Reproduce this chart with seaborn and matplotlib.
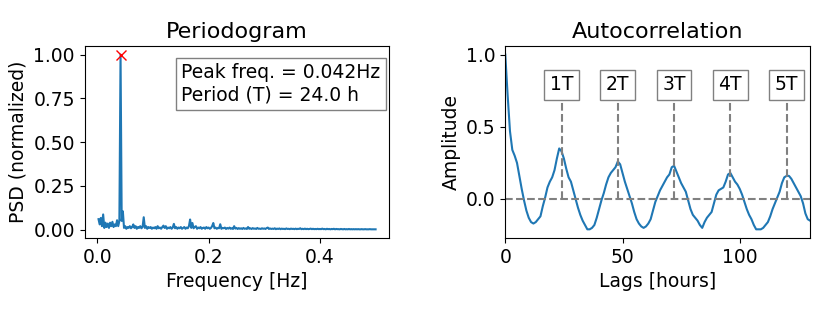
import numpy as np
import matplotlib
matplotlib.use('Agg')
import matplotlib.pyplot as plt
import seaborn as sns

# periodogram, hourly data -> frequency grid of 1/480 Hz
psd = [0.06, 0.03, 0.067, 0.02, 0.087, 0.01, 0.04, 0.015, 0.035, 0.01,
       0.04, 0.02, 0.045, 0.015, 0.03, 0.02, 0.054, 0.02, 0.05, 1.00,
       0.05, 0.105, 0.01, 0.02, 0.005, 0.015, 0.01, 0.02, 0.008, 0.015,
       0.03, 0.01, 0.02, 0.005, 0.015, 0.01, 0.02, 0.008, 0.015, 0.071,
       0.01, 0.02, 0.005, 0.015, 0.01, 0.015, 0.005, 0.012, 0.008, 0.015,
       0.005, 0.02, 0.008, 0.012, 0.005, 0.015, 0.023, 0.01, 0.02, 0.005,
       0.012, 0.008, 0.015, 0.005, 0.012, 0.033, 0.008, 0.015, 0.005, 0.012,
       0.008, 0.015, 0.005, 0.01, 0.015, 0.005, 0.012, 0.008, 0.02, 0.058,
       0.01, 0.038, 0.008, 0.015, 0.02, 0.005, 0.012, 0.008, 0.015, 0.005,
       0.01, 0.012, 0.005, 0.015, 0.008, 0.012, 0.005, 0.01, 0.02, 0.038,
       0.008, 0.012, 0.005, 0.01, 0.008, 0.031, 0.005, 0.01, 0.008, 0.012,
       0.004, 0.01, 0.006, 0.012, 0.005, 0.008, 0.004, 0.02, 0.006, 0.01,
       0.004, 0.009, 0.005, 0.008, 0.004, 0.01, 0.005, 0.007, 0.004, 0.015,
       0.005, 0.008, 0.004, 0.009, 0.005, 0.007, 0.004, 0.01, 0.005, 0.006,
       0.004, 0.008, 0.005, 0.007, 0.004, 0.009, 0.012, 0.004, 0.007, 0.004,
       0.006, 0.004, 0.008, 0.003, 0.006, 0.004, 0.007, 0.003, 0.006, 0.004,
       0.005, 0.003, 0.007, 0.004, 0.005, 0.003, 0.006, 0.004, 0.005, 0.003,
       0.006, 0.003, 0.005, 0.004, 0.008, 0.003, 0.005, 0.003, 0.006, 0.003,
       0.005, 0.003, 0.004, 0.006, 0.003, 0.005, 0.003, 0.004, 0.003, 0.005,
       0.003, 0.004, 0.003, 0.006, 0.003, 0.004, 0.002, 0.005, 0.003, 0.004,
       0.002, 0.004, 0.003, 0.005, 0.002, 0.004, 0.003, 0.003, 0.002, 0.004,
       0.003, 0.002, 0.004, 0.002, 0.003, 0.002, 0.004, 0.002, 0.003, 0.002,
       0.003, 0.002, 0.003, 0.002, 0.003, 0.002, 0.002, 0.003, 0.002, 0.002,
       0.003, 0.002, 0.002, 0.002, 0.003, 0.002, 0.002, 0.002, 0.002, 0.002]
freq = np.arange(1, len(psd) + 1) / 480

# autocorrelation, lags 0..130 hours
acf = [1.00, 0.72, 0.47, 0.34, 0.30, 0.25, 0.16, 0.07, -0.01, -0.08,
       -0.13, -0.16, -0.17, -0.16, -0.14, -0.12, -0.05, 0.01, 0.08, 0.12,
       0.15, 0.20, 0.28, 0.35, 0.33, 0.28, 0.21, 0.15, 0.12, 0.06,
       0.00, -0.06, -0.11, -0.15, -0.18, -0.21, -0.21, -0.20, -0.18, -0.13,
       -0.07, -0.01, 0.04, 0.10, 0.15, 0.18, 0.20, 0.22, 0.26, 0.24,
       0.18, 0.12, 0.07, 0.02, -0.03, -0.09, -0.14, -0.17, -0.19, -0.20,
       -0.19, -0.17, -0.14, -0.08, -0.02, 0.02, 0.06, 0.09, 0.12, 0.15,
       0.17, 0.22, 0.23, 0.19, 0.15, 0.11, 0.08, 0.05, -0.01, -0.07,
       -0.11, -0.13, -0.15, -0.18, -0.20, -0.16, -0.13, -0.11, -0.09, -0.03,
       0.03, 0.06, 0.07, 0.08, 0.12, 0.17, 0.18, 0.15, 0.12, 0.10,
       0.07, 0.03, -0.02, -0.07, -0.11, -0.14, -0.18, -0.21, -0.21, -0.21,
       -0.20, -0.18, -0.16, -0.12, -0.07, -0.03, 0.01, 0.05, 0.11, 0.15,
       0.16, 0.16, 0.14, 0.11, 0.08, 0.05, 0.02, -0.03, -0.10, -0.14, -0.15]
lags = np.arange(len(acf))

peak_freq = 0.042
period = 24.0
period_labels = ['1T', '2T', '3T', '4T', '5T']
period_lags = [24, 48, 72, 96, 120]

fs = 13.5
fig, (ax1, ax2) = plt.subplots(1, 2, figsize=(8.3, 3.12), dpi=100)
fig.subplots_adjust(left=0.102, right=0.976, top=0.853, bottom=0.237, wspace=0.38)

# periodogram
sns.lineplot(x=freq, y=psd, ax=ax1, color='#1f77b4', linewidth=1.5)
ax1.plot(peak_freq, 1.0, 'x', color='red', markersize=7)
ax1.set_title('Periodogram', fontsize=16)
ax1.set_xlabel('Frequency [Hz]', fontsize=fs)
ax1.set_ylabel('PSD (normalized)', fontsize=fs)
ax1.set_yticks([0, 0.25, 0.5, 0.75, 1.0])
ax1.set_xticks([0.0, 0.2, 0.4])
ax1.tick_params(labelsize=fs)
ax1.text(0.317, 0.91, 'Peak freq. = %.3fHz\nPeriod (T) = %.1f h' % (peak_freq, period),
         transform=ax1.transAxes, va='top', ha='left', fontsize=fs,
         bbox=dict(boxstyle='square', facecolor='white', edgecolor='gray'))

# autocorrelation
sns.lineplot(x=lags, y=acf, ax=ax2, color='#1f77b4', linewidth=1.5)
ax2.axhline(0, color='gray', linestyle='--', linewidth=1.5)
for lab, lg in zip(period_labels, period_lags):
    ax2.vlines(lg, 0, 0.79, color='gray', linestyle='--', linewidth=1.5)
    ax2.text(lg, 0.79, lab, ha='center', va='center', fontsize=fs, zorder=5,
             bbox=dict(boxstyle='square', facecolor='white', edgecolor='gray'))
ax2.set_xlim(0, 130)
ax2.set_title('Autocorrelation', fontsize=16)
ax2.set_xlabel('Lags [hours]', fontsize=fs)
ax2.set_ylabel('Amplitude', fontsize=fs)
ax2.set_yticks([0.0, 0.5, 1.0])
ax2.set_xticks([0, 50, 100])
ax2.tick_params(labelsize=fs)

fig.savefig('out.png', dpi=100)
